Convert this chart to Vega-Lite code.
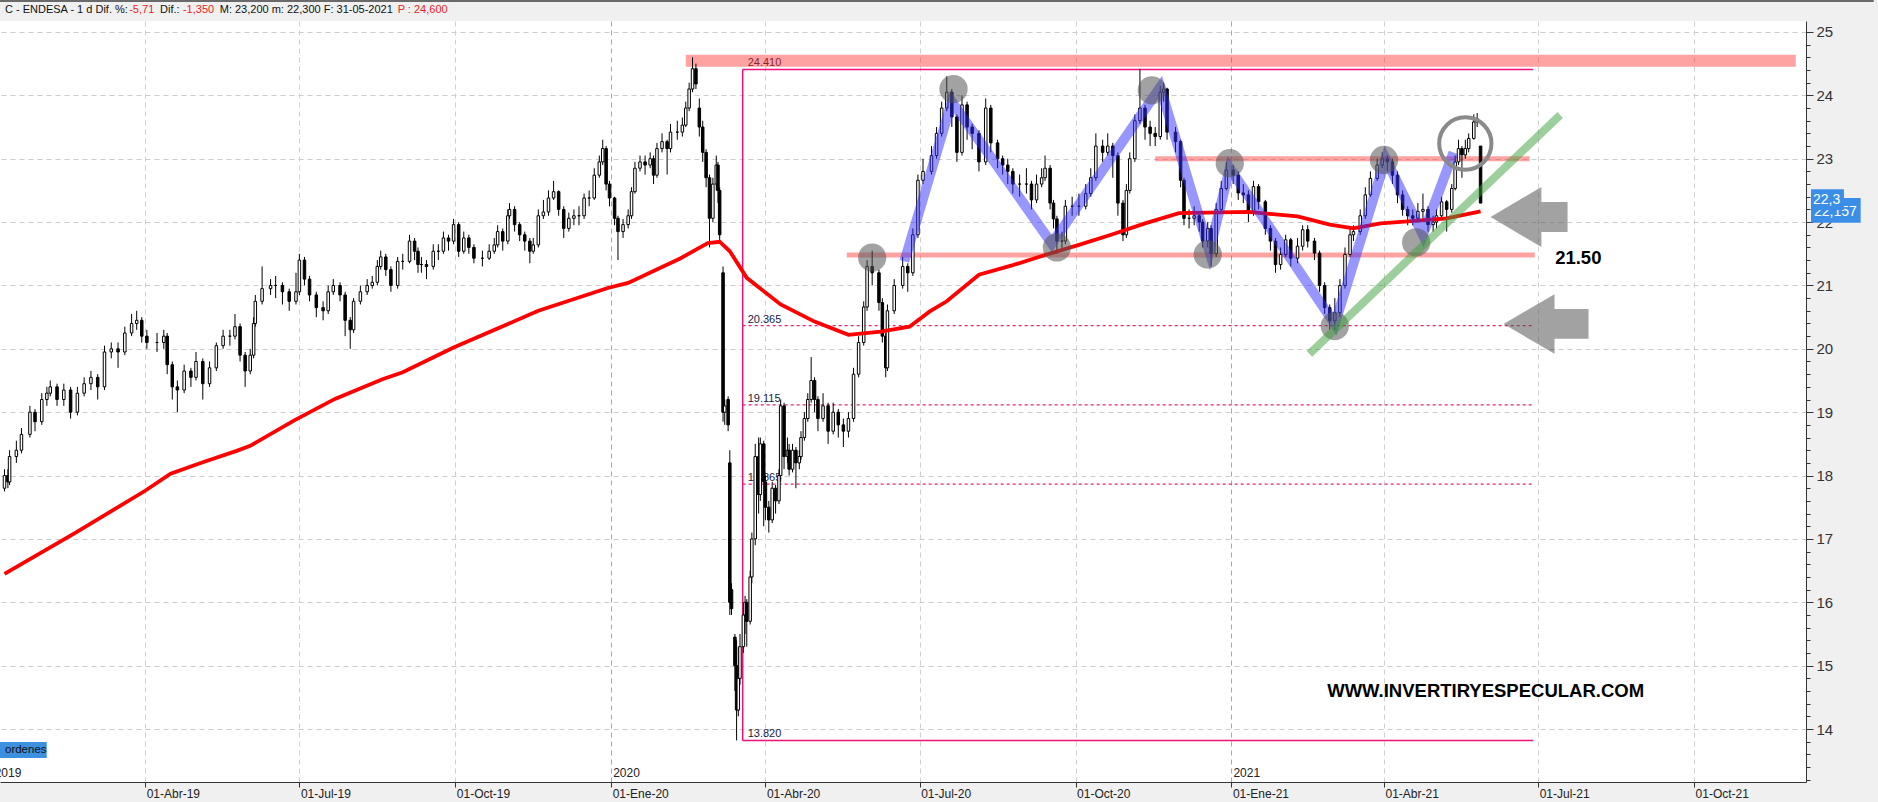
{
"$schema": "https://vega.github.io/schema/vega-lite/v6.json",
"width": 1806, "height": 761,
"autosize": {"type": "none"},
"padding": {"left": 0, "top": 21, "right": 72, "bottom": 20},
"background": "#f0f0f0",
"view": {"fill": "white", "stroke": null},
"config": {"font": "Liberation Sans"},
"datasets": {
"candles": [
{"d":"2019-01-08","o":17.8,"h":18.1,"l":17.75,"c":18.0},
{"d":"2019-01-10","o":18.0,"h":18.1,"l":17.8,"c":17.9},
{"d":"2019-01-11","o":17.9,"h":18.4,"l":17.85,"c":18.3},
{"d":"2019-01-15","o":18.3,"h":18.55,"l":18.2,"c":18.4},
{"d":"2019-01-18","o":18.4,"h":18.75,"l":18.35,"c":18.65},
{"d":"2019-01-23","o":18.65,"h":19.1,"l":18.6,"c":19.0},
{"d":"2019-01-26","o":19.0,"h":19.05,"l":18.7,"c":18.85},
{"d":"2019-01-30","o":18.85,"h":19.3,"l":18.8,"c":19.2},
{"d":"2019-02-02","o":19.2,"h":19.4,"l":19.1,"c":19.3},
{"d":"2019-02-04","o":19.3,"h":19.5,"l":19.25,"c":19.4},
{"d":"2019-02-08","o":19.4,"h":19.45,"l":19.1,"c":19.2},
{"d":"2019-02-12","o":19.2,"h":19.45,"l":19.1,"c":19.35},
{"d":"2019-02-16","o":19.35,"h":19.4,"l":18.9,"c":19.0},
{"d":"2019-02-20","o":19.0,"h":19.4,"l":18.95,"c":19.3},
{"d":"2019-02-24","o":19.3,"h":19.55,"l":19.25,"c":19.45},
{"d":"2019-02-28","o":19.45,"h":19.65,"l":19.35,"c":19.55},
{"d":"2019-03-04","o":19.55,"h":19.6,"l":19.2,"c":19.4},
{"d":"2019-03-08","o":19.4,"h":20.05,"l":19.35,"c":19.95},
{"d":"2019-03-12","o":19.95,"h":20.1,"l":19.85,"c":20.0},
{"d":"2019-03-16","o":20.0,"h":20.1,"l":19.7,"c":19.95},
{"d":"2019-03-20","o":19.95,"h":20.35,"l":19.9,"c":20.25},
{"d":"2019-03-24","o":20.25,"h":20.55,"l":20.2,"c":20.4},
{"d":"2019-03-27","o":20.4,"h":20.6,"l":20.3,"c":20.45},
{"d":"2019-03-30","o":20.45,"h":20.5,"l":20.1,"c":20.2},
{"d":"2019-04-02","o":20.2,"h":20.3,"l":20.0,"c":20.1},
{"d":"2019-04-08","o":20.1,"h":20.25,"l":19.95,"c":20.1},
{"d":"2019-04-12","o":20.1,"h":20.3,"l":20.0,"c":20.2},
{"d":"2019-04-14","o":20.2,"h":20.25,"l":19.6,"c":19.75},
{"d":"2019-04-17","o":19.75,"h":19.8,"l":19.2,"c":19.4},
{"d":"2019-04-20","o":19.4,"h":19.5,"l":19.0,"c":19.35},
{"d":"2019-04-24","o":19.35,"h":19.75,"l":19.3,"c":19.65},
{"d":"2019-04-28","o":19.65,"h":19.7,"l":19.4,"c":19.55},
{"d":"2019-05-01","o":19.55,"h":19.95,"l":19.5,"c":19.8},
{"d":"2019-05-05","o":19.8,"h":19.85,"l":19.2,"c":19.45},
{"d":"2019-05-09","o":19.45,"h":19.8,"l":19.4,"c":19.7},
{"d":"2019-05-13","o":19.7,"h":20.1,"l":19.65,"c":20.05},
{"d":"2019-05-17","o":20.05,"h":20.3,"l":20.0,"c":20.2},
{"d":"2019-05-21","o":20.2,"h":20.3,"l":20.05,"c":20.2},
{"d":"2019-05-24","o":20.2,"h":20.55,"l":20.15,"c":20.35},
{"d":"2019-05-27","o":20.35,"h":20.4,"l":19.8,"c":19.9},
{"d":"2019-05-30","o":19.9,"h":19.95,"l":19.4,"c":19.65},
{"d":"2019-06-02","o":19.65,"h":20.0,"l":19.6,"c":19.9},
{"d":"2019-06-04","o":19.9,"h":20.5,"l":19.85,"c":20.4},
{"d":"2019-06-05","o":20.4,"h":20.85,"l":20.35,"c":20.75},
{"d":"2019-06-09","o":20.75,"h":21.3,"l":20.7,"c":20.95},
{"d":"2019-06-14","o":20.95,"h":21.1,"l":20.85,"c":21.0},
{"d":"2019-06-17","o":21.0,"h":21.15,"l":20.8,"c":21.0},
{"d":"2019-06-21","o":21.0,"h":21.05,"l":20.7,"c":20.9},
{"d":"2019-06-25","o":20.9,"h":20.95,"l":20.6,"c":20.75},
{"d":"2019-06-29","o":20.75,"h":21.2,"l":20.7,"c":20.9},
{"d":"2019-07-01","o":20.9,"h":21.5,"l":20.85,"c":21.4},
{"d":"2019-07-04","o":21.4,"h":21.45,"l":21.0,"c":21.1},
{"d":"2019-07-07","o":21.1,"h":21.15,"l":20.75,"c":20.85},
{"d":"2019-07-11","o":20.85,"h":20.9,"l":20.5,"c":20.65},
{"d":"2019-07-15","o":20.65,"h":20.75,"l":20.45,"c":20.6},
{"d":"2019-07-18","o":20.6,"h":21.0,"l":20.55,"c":20.9},
{"d":"2019-07-21","o":20.9,"h":21.1,"l":20.85,"c":21.0},
{"d":"2019-07-25","o":21.0,"h":21.05,"l":20.75,"c":20.85},
{"d":"2019-07-28","o":20.85,"h":20.9,"l":20.2,"c":20.45},
{"d":"2019-07-31","o":20.45,"h":20.5,"l":20.0,"c":20.3},
{"d":"2019-08-02","o":20.3,"h":20.8,"l":20.25,"c":20.75},
{"d":"2019-08-06","o":20.75,"h":21.0,"l":20.7,"c":20.9},
{"d":"2019-08-10","o":20.9,"h":21.1,"l":20.85,"c":21.0},
{"d":"2019-08-13","o":21.0,"h":21.15,"l":20.95,"c":21.05},
{"d":"2019-08-16","o":21.05,"h":21.4,"l":21.0,"c":21.3},
{"d":"2019-08-18","o":21.3,"h":21.55,"l":21.25,"c":21.45},
{"d":"2019-08-21","o":21.45,"h":21.5,"l":21.15,"c":21.25},
{"d":"2019-08-24","o":21.25,"h":21.3,"l":20.9,"c":21.0},
{"d":"2019-08-28","o":21.0,"h":21.45,"l":20.95,"c":21.38},
{"d":"2019-08-31","o":21.38,"h":21.5,"l":21.25,"c":21.38},
{"d":"2019-09-04","o":21.38,"h":21.8,"l":21.35,"c":21.7},
{"d":"2019-09-07","o":21.7,"h":21.75,"l":21.4,"c":21.54},
{"d":"2019-09-09","o":21.54,"h":21.6,"l":21.2,"c":21.33},
{"d":"2019-09-11","o":21.33,"h":21.45,"l":21.2,"c":21.33},
{"d":"2019-09-14","o":21.33,"h":21.4,"l":21.1,"c":21.3},
{"d":"2019-09-18","o":21.3,"h":21.65,"l":21.25,"c":21.54},
{"d":"2019-09-21","o":21.54,"h":21.65,"l":21.4,"c":21.54},
{"d":"2019-09-24","o":21.54,"h":21.85,"l":21.5,"c":21.75},
{"d":"2019-09-27","o":21.75,"h":21.8,"l":21.55,"c":21.7},
{"d":"2019-09-30","o":21.7,"h":22.05,"l":21.65,"c":21.96},
{"d":"2019-10-03","o":21.96,"h":22.0,"l":21.45,"c":21.54},
{"d":"2019-10-06","o":21.54,"h":21.85,"l":21.5,"c":21.75},
{"d":"2019-10-09","o":21.75,"h":21.8,"l":21.5,"c":21.6},
{"d":"2019-10-12","o":21.6,"h":21.65,"l":21.35,"c":21.43},
{"d":"2019-10-17","o":21.43,"h":21.55,"l":21.3,"c":21.43},
{"d":"2019-10-21","o":21.43,"h":21.65,"l":21.4,"c":21.54},
{"d":"2019-10-24","o":21.54,"h":21.75,"l":21.5,"c":21.64},
{"d":"2019-10-26","o":21.64,"h":21.95,"l":21.6,"c":21.85},
{"d":"2019-10-29","o":21.85,"h":21.9,"l":21.55,"c":21.7},
{"d":"2019-11-01","o":21.7,"h":22.2,"l":21.65,"c":22.1},
{"d":"2019-11-02","o":22.1,"h":22.3,"l":22.05,"c":22.2},
{"d":"2019-11-05","o":22.2,"h":22.25,"l":21.85,"c":21.96},
{"d":"2019-11-08","o":21.96,"h":22.0,"l":21.7,"c":21.8},
{"d":"2019-11-11","o":21.8,"h":21.85,"l":21.55,"c":21.7},
{"d":"2019-11-14","o":21.7,"h":21.75,"l":21.35,"c":21.54},
{"d":"2019-11-16","o":21.54,"h":21.75,"l":21.5,"c":21.64},
{"d":"2019-11-19","o":21.64,"h":22.2,"l":21.6,"c":22.1},
{"d":"2019-11-22","o":22.1,"h":22.35,"l":22.05,"c":22.16},
{"d":"2019-11-25","o":22.16,"h":22.5,"l":22.1,"c":22.38},
{"d":"2019-11-28","o":22.38,"h":22.65,"l":22.35,"c":22.48},
{"d":"2019-12-01","o":22.48,"h":22.5,"l":22.1,"c":22.2},
{"d":"2019-12-04","o":22.2,"h":22.25,"l":21.75,"c":21.9},
{"d":"2019-12-07","o":21.9,"h":22.15,"l":21.85,"c":22.06},
{"d":"2019-12-10","o":22.06,"h":22.2,"l":21.95,"c":22.1},
{"d":"2019-12-13","o":22.1,"h":22.25,"l":21.95,"c":22.1},
{"d":"2019-12-16","o":22.1,"h":22.45,"l":22.05,"c":22.38},
{"d":"2019-12-19","o":22.38,"h":22.5,"l":22.25,"c":22.38},
{"d":"2019-12-22","o":22.38,"h":22.85,"l":22.35,"c":22.74},
{"d":"2019-12-25","o":22.74,"h":23.05,"l":22.7,"c":22.95},
{"d":"2019-12-27","o":22.95,"h":23.3,"l":22.9,"c":23.16},
{"d":"2019-12-29","o":23.16,"h":23.2,"l":22.5,"c":22.6},
{"d":"2019-12-31","o":22.6,"h":22.65,"l":22.25,"c":22.38},
{"d":"2020-01-03","o":22.38,"h":22.4,"l":21.95,"c":22.06},
{"d":"2020-01-05","o":22.06,"h":22.1,"l":21.4,"c":21.85},
{"d":"2020-01-08","o":21.85,"h":22.05,"l":21.75,"c":21.96},
{"d":"2020-01-11","o":21.96,"h":22.2,"l":21.9,"c":22.1},
{"d":"2020-01-13","o":22.1,"h":22.55,"l":22.05,"c":22.48},
{"d":"2020-01-15","o":22.48,"h":22.95,"l":22.45,"c":22.85},
{"d":"2020-01-18","o":22.85,"h":23.05,"l":22.8,"c":22.95},
{"d":"2020-01-21","o":22.95,"h":23.05,"l":22.75,"c":22.9},
{"d":"2020-01-24","o":22.9,"h":23.1,"l":22.85,"c":23.0},
{"d":"2020-01-26","o":23.0,"h":23.05,"l":22.6,"c":22.74},
{"d":"2020-01-28","o":22.74,"h":23.25,"l":22.7,"c":23.16},
{"d":"2020-01-31","o":23.16,"h":23.4,"l":23.1,"c":23.27},
{"d":"2020-02-03","o":23.27,"h":23.3,"l":22.75,"c":23.16},
{"d":"2020-02-05","o":23.16,"h":23.55,"l":23.1,"c":23.42},
{"d":"2020-02-09","o":23.42,"h":23.6,"l":23.3,"c":23.42},
{"d":"2020-02-12","o":23.42,"h":23.65,"l":23.35,"c":23.53},
{"d":"2020-02-14","o":23.53,"h":23.9,"l":23.5,"c":23.8},
{"d":"2020-02-16","o":23.8,"h":24.2,"l":23.75,"c":24.1},
{"d":"2020-02-18","o":24.1,"h":24.6,"l":24.05,"c":24.42},
{"d":"2020-02-20","o":24.42,"h":24.5,"l":24.1,"c":24.18},
{"d":"2020-02-22","o":23.8,"h":23.95,"l":23.35,"c":23.5},
{"d":"2020-02-24","o":23.5,"h":23.6,"l":22.95,"c":23.1},
{"d":"2020-02-26","o":23.1,"h":23.15,"l":22.55,"c":22.7},
{"d":"2020-02-28","o":22.7,"h":22.75,"l":21.6,"c":22.06},
{"d":"2020-03-01","o":22.06,"h":22.7,"l":22.0,"c":22.6},
{"d":"2020-03-03","o":22.6,"h":23.05,"l":22.5,"c":22.9},
{"d":"2020-03-04","o":22.9,"h":22.95,"l":22.3,"c":22.5},
{"d":"2020-03-05","o":22.5,"h":22.55,"l":21.7,"c":21.8},
{"d":"2020-03-07","o":21.2,"h":21.3,"l":18.85,"c":19.0},
{"d":"2020-03-08","o":19.0,"h":19.2,"l":18.8,"c":19.1},
{"d":"2020-03-10","o":19.2,"h":19.25,"l":18.7,"c":18.8},
{"d":"2020-03-11","o":18.2,"h":18.4,"l":15.8,"c":16.0},
{"d":"2020-03-12","o":16.2,"h":16.3,"l":15.8,"c":15.9},
{"d":"2020-03-14","o":15.45,"h":15.5,"l":14.6,"c":15.0},
{"d":"2020-03-15","o":15.0,"h":15.4,"l":13.82,"c":14.3},
{"d":"2020-03-16","o":14.3,"h":15.3,"l":14.2,"c":14.8},
{"d":"2020-03-17","o":14.8,"h":15.5,"l":14.7,"c":15.3},
{"d":"2020-03-19","o":15.3,"h":16.0,"l":15.2,"c":15.8},
{"d":"2020-03-20","o":15.8,"h":16.1,"l":15.5,"c":16.0},
{"d":"2020-03-21","o":16.0,"h":16.05,"l":15.3,"c":15.7},
{"d":"2020-03-23","o":15.7,"h":16.5,"l":15.65,"c":16.4},
{"d":"2020-03-24","o":16.4,"h":17.1,"l":16.3,"c":17.0},
{"d":"2020-03-26","o":17.0,"h":18.5,"l":16.9,"c":18.3},
{"d":"2020-03-28","o":18.3,"h":18.6,"l":17.4,"c":17.7},
{"d":"2020-03-29","o":17.7,"h":18.6,"l":17.6,"c":18.5},
{"d":"2020-03-31","o":18.5,"h":18.55,"l":17.2,"c":17.9},
{"d":"2020-04-01","o":17.9,"h":18.0,"l":17.3,"c":17.5},
{"d":"2020-04-03","o":17.5,"h":17.6,"l":17.1,"c":17.3},
{"d":"2020-04-05","o":17.3,"h":17.9,"l":17.25,"c":17.8},
{"d":"2020-04-07","o":17.8,"h":17.85,"l":17.4,"c":17.6},
{"d":"2020-04-09","o":17.6,"h":18.1,"l":17.55,"c":18.0},
{"d":"2020-04-10","o":18.0,"h":19.2,"l":17.9,"c":19.1},
{"d":"2020-04-12","o":19.1,"h":19.15,"l":18.1,"c":18.3},
{"d":"2020-04-14","o":18.3,"h":18.6,"l":18.2,"c":18.4},
{"d":"2020-04-15","o":18.4,"h":18.5,"l":18.0,"c":18.1},
{"d":"2020-04-17","o":18.1,"h":18.5,"l":18.05,"c":18.4},
{"d":"2020-04-19","o":18.4,"h":18.45,"l":17.8,"c":18.2},
{"d":"2020-04-21","o":18.2,"h":18.4,"l":18.1,"c":18.3},
{"d":"2020-04-22","o":18.3,"h":18.7,"l":18.25,"c":18.6},
{"d":"2020-04-24","o":18.6,"h":19.0,"l":18.55,"c":18.9},
{"d":"2020-04-26","o":18.9,"h":19.3,"l":18.85,"c":19.2},
{"d":"2020-04-28","o":19.2,"h":19.87,"l":19.15,"c":19.5},
{"d":"2020-04-30","o":19.5,"h":19.55,"l":19.0,"c":19.2},
{"d":"2020-05-02","o":19.2,"h":19.25,"l":18.7,"c":18.9},
{"d":"2020-05-05","o":18.9,"h":19.3,"l":18.85,"c":19.1},
{"d":"2020-05-08","o":19.1,"h":19.15,"l":18.5,"c":18.7},
{"d":"2020-05-11","o":18.7,"h":19.15,"l":18.65,"c":19.0},
{"d":"2020-05-14","o":19.0,"h":19.05,"l":18.6,"c":18.8},
{"d":"2020-05-17","o":18.8,"h":18.9,"l":18.45,"c":18.7},
{"d":"2020-05-20","o":18.7,"h":19.0,"l":18.6,"c":18.9},
{"d":"2020-05-23","o":18.9,"h":19.7,"l":18.85,"c":19.6},
{"d":"2020-05-26","o":19.6,"h":20.2,"l":19.55,"c":20.1},
{"d":"2020-05-29","o":20.1,"h":20.75,"l":20.05,"c":20.66},
{"d":"2020-05-31","o":20.66,"h":21.4,"l":20.6,"c":21.3},
{"d":"2020-06-03","o":21.3,"h":21.55,"l":21.0,"c":21.2},
{"d":"2020-06-07","o":21.2,"h":21.25,"l":20.6,"c":20.73},
{"d":"2020-06-09","o":20.73,"h":20.8,"l":20.1,"c":20.2},
{"d":"2020-06-11","o":20.2,"h":20.25,"l":19.55,"c":19.7},
{"d":"2020-06-12","o":19.7,"h":20.7,"l":19.65,"c":20.6},
{"d":"2020-06-16","o":20.6,"h":21.1,"l":20.55,"c":21.0},
{"d":"2020-06-21","o":21.0,"h":21.45,"l":20.95,"c":21.3},
{"d":"2020-06-24","o":21.3,"h":21.35,"l":20.9,"c":21.2},
{"d":"2020-06-27","o":21.2,"h":21.9,"l":21.15,"c":21.8},
{"d":"2020-06-30","o":21.8,"h":22.75,"l":21.75,"c":22.66},
{"d":"2020-07-03","o":22.66,"h":23.0,"l":22.6,"c":22.8},
{"d":"2020-07-08","o":22.8,"h":23.2,"l":22.75,"c":23.05},
{"d":"2020-07-11","o":23.05,"h":23.5,"l":23.0,"c":23.4},
{"d":"2020-07-14","o":23.4,"h":23.9,"l":23.35,"c":23.8},
{"d":"2020-07-17","o":23.8,"h":24.3,"l":23.75,"c":24.05},
{"d":"2020-07-20","o":24.05,"h":24.1,"l":23.5,"c":23.66},
{"d":"2020-07-23","o":23.66,"h":23.7,"l":22.95,"c":23.1},
{"d":"2020-07-26","o":23.1,"h":24.0,"l":23.05,"c":23.85},
{"d":"2020-07-29","o":23.85,"h":23.9,"l":23.3,"c":23.5},
{"d":"2020-08-01","o":23.5,"h":23.55,"l":23.15,"c":23.4},
{"d":"2020-08-05","o":23.4,"h":23.45,"l":22.8,"c":22.95},
{"d":"2020-08-09","o":22.95,"h":23.95,"l":22.9,"c":23.8},
{"d":"2020-08-12","o":23.8,"h":23.85,"l":23.1,"c":23.25},
{"d":"2020-08-16","o":23.25,"h":23.3,"l":22.85,"c":23.0},
{"d":"2020-08-19","o":23.0,"h":23.05,"l":22.75,"c":22.9},
{"d":"2020-08-22","o":22.9,"h":23.0,"l":22.6,"c":22.8},
{"d":"2020-08-25","o":22.8,"h":22.85,"l":22.45,"c":22.6},
{"d":"2020-08-29","o":22.6,"h":22.75,"l":22.4,"c":22.6},
{"d":"2020-09-02","o":22.6,"h":22.85,"l":22.45,"c":22.6},
{"d":"2020-09-05","o":22.6,"h":22.65,"l":22.2,"c":22.35},
{"d":"2020-09-08","o":22.35,"h":22.75,"l":22.3,"c":22.6},
{"d":"2020-09-11","o":22.6,"h":22.85,"l":22.55,"c":22.7},
{"d":"2020-09-13","o":22.7,"h":23.05,"l":22.65,"c":22.85},
{"d":"2020-09-16","o":22.85,"h":22.9,"l":22.2,"c":22.3},
{"d":"2020-09-18","o":22.3,"h":22.35,"l":21.9,"c":22.05},
{"d":"2020-09-20","o":22.05,"h":22.1,"l":21.5,"c":21.7},
{"d":"2020-09-23","o":21.7,"h":21.85,"l":21.55,"c":21.7},
{"d":"2020-09-25","o":21.7,"h":22.35,"l":21.65,"c":22.25},
{"d":"2020-09-29","o":22.25,"h":22.4,"l":22.1,"c":22.25},
{"d":"2020-10-03","o":22.25,"h":22.45,"l":22.1,"c":22.25},
{"d":"2020-10-07","o":22.25,"h":22.6,"l":22.2,"c":22.45},
{"d":"2020-10-10","o":22.45,"h":22.85,"l":22.4,"c":22.7},
{"d":"2020-10-13","o":22.7,"h":23.4,"l":22.65,"c":23.2},
{"d":"2020-10-17","o":23.2,"h":23.3,"l":22.95,"c":23.1},
{"d":"2020-10-20","o":23.1,"h":23.4,"l":23.05,"c":23.2},
{"d":"2020-10-23","o":23.2,"h":23.25,"l":22.7,"c":23.05},
{"d":"2020-10-26","o":23.05,"h":23.1,"l":22.1,"c":22.3},
{"d":"2020-10-29","o":22.3,"h":22.35,"l":21.7,"c":21.8},
{"d":"2020-10-31","o":21.8,"h":22.6,"l":21.75,"c":22.5},
{"d":"2020-11-02","o":22.5,"h":23.1,"l":22.45,"c":23.0},
{"d":"2020-11-05","o":23.0,"h":23.7,"l":22.95,"c":23.6},
{"d":"2020-11-08","o":23.6,"h":24.42,"l":23.55,"c":23.8},
{"d":"2020-11-11","o":23.8,"h":23.85,"l":23.3,"c":23.5},
{"d":"2020-11-14","o":23.5,"h":23.6,"l":23.2,"c":23.4},
{"d":"2020-11-17","o":23.4,"h":23.5,"l":23.2,"c":23.35},
{"d":"2020-11-20","o":23.35,"h":24.15,"l":23.3,"c":24.05},
{"d":"2020-11-22","o":24.05,"h":24.2,"l":23.9,"c":24.1},
{"d":"2020-11-24","o":24.1,"h":24.12,"l":23.3,"c":23.42},
{"d":"2020-11-29","o":23.42,"h":23.5,"l":23.1,"c":23.27},
{"d":"2020-12-02","o":23.27,"h":23.3,"l":22.55,"c":22.66},
{"d":"2020-12-04","o":22.66,"h":22.7,"l":21.95,"c":22.06},
{"d":"2020-12-07","o":22.06,"h":22.2,"l":21.9,"c":22.06},
{"d":"2020-12-10","o":22.06,"h":22.25,"l":21.95,"c":22.1},
{"d":"2020-12-13","o":22.1,"h":22.15,"l":21.85,"c":22.0},
{"d":"2020-12-15","o":22.0,"h":22.05,"l":21.6,"c":21.7},
{"d":"2020-12-18","o":21.7,"h":22.0,"l":21.6,"c":21.9},
{"d":"2020-12-20","o":21.9,"h":21.95,"l":21.3,"c":21.5},
{"d":"2020-12-23","o":21.5,"h":22.3,"l":21.45,"c":22.2},
{"d":"2020-12-26","o":22.2,"h":22.65,"l":22.15,"c":22.53},
{"d":"2020-12-29","o":22.53,"h":22.95,"l":22.5,"c":22.82},
{"d":"2021-01-02","o":22.82,"h":22.9,"l":22.6,"c":22.74},
{"d":"2021-01-05","o":22.74,"h":22.8,"l":22.35,"c":22.46},
{"d":"2021-01-08","o":22.46,"h":22.6,"l":22.3,"c":22.43},
{"d":"2021-01-11","o":22.43,"h":22.5,"l":22.0,"c":22.17},
{"d":"2021-01-14","o":22.17,"h":22.65,"l":22.1,"c":22.56},
{"d":"2021-01-17","o":22.56,"h":22.6,"l":22.2,"c":22.32},
{"d":"2021-01-21","o":22.32,"h":22.35,"l":21.8,"c":21.9},
{"d":"2021-01-24","o":21.9,"h":21.95,"l":21.55,"c":21.7},
{"d":"2021-01-27","o":21.7,"h":21.75,"l":21.2,"c":21.33},
{"d":"2021-01-30","o":21.33,"h":21.6,"l":21.25,"c":21.49},
{"d":"2021-02-02","o":21.49,"h":21.8,"l":21.45,"c":21.72},
{"d":"2021-02-05","o":21.72,"h":21.75,"l":21.3,"c":21.43},
{"d":"2021-02-09","o":21.43,"h":21.75,"l":21.35,"c":21.62},
{"d":"2021-02-12","o":21.62,"h":21.95,"l":21.55,"c":21.88},
{"d":"2021-02-15","o":21.88,"h":21.95,"l":21.6,"c":21.7},
{"d":"2021-02-19","o":21.7,"h":21.75,"l":21.4,"c":21.51},
{"d":"2021-02-22","o":21.51,"h":21.55,"l":20.9,"c":21.0},
{"d":"2021-02-25","o":21.0,"h":21.05,"l":20.55,"c":20.65},
{"d":"2021-02-28","o":20.65,"h":20.7,"l":20.3,"c":20.44},
{"d":"2021-03-03","o":20.44,"h":20.8,"l":20.3,"c":20.57},
{"d":"2021-03-06","o":20.57,"h":21.1,"l":20.5,"c":21.0},
{"d":"2021-03-09","o":21.0,"h":21.6,"l":20.95,"c":21.49},
{"d":"2021-03-12","o":21.49,"h":21.9,"l":21.45,"c":21.8},
{"d":"2021-03-14","o":21.8,"h":21.95,"l":21.7,"c":21.85},
{"d":"2021-03-18","o":21.85,"h":22.2,"l":21.8,"c":22.1},
{"d":"2021-03-21","o":22.1,"h":22.55,"l":22.05,"c":22.43},
{"d":"2021-03-24","o":22.43,"h":22.8,"l":22.4,"c":22.69},
{"d":"2021-03-28","o":22.69,"h":23.0,"l":22.65,"c":22.9},
{"d":"2021-03-31","o":22.9,"h":23.1,"l":22.85,"c":23.0},
{"d":"2021-04-03","o":23.0,"h":23.05,"l":22.8,"c":22.95},
{"d":"2021-04-06","o":22.95,"h":23.0,"l":22.6,"c":22.74},
{"d":"2021-04-09","o":22.74,"h":22.8,"l":22.3,"c":22.43},
{"d":"2021-04-12","o":22.43,"h":22.5,"l":22.1,"c":22.2},
{"d":"2021-04-15","o":22.2,"h":22.25,"l":21.95,"c":22.1},
{"d":"2021-04-18","o":22.1,"h":22.2,"l":21.95,"c":22.06},
{"d":"2021-04-21","o":22.06,"h":22.3,"l":22.0,"c":22.17},
{"d":"2021-04-24","o":22.17,"h":22.45,"l":22.05,"c":22.2},
{"d":"2021-04-27","o":22.2,"h":22.25,"l":21.85,"c":21.96},
{"d":"2021-04-30","o":21.96,"h":22.1,"l":21.85,"c":22.0},
{"d":"2021-05-02","o":22.0,"h":22.2,"l":21.9,"c":22.1},
{"d":"2021-05-05","o":22.1,"h":22.4,"l":22.05,"c":22.32},
{"d":"2021-05-08","o":22.32,"h":22.35,"l":21.85,"c":22.2},
{"d":"2021-05-11","o":22.2,"h":22.6,"l":22.15,"c":22.53},
{"d":"2021-05-13","o":22.53,"h":23.05,"l":22.5,"c":22.95},
{"d":"2021-05-15","o":22.95,"h":23.3,"l":22.9,"c":23.16},
{"d":"2021-05-17","o":23.16,"h":23.2,"l":22.7,"c":23.06},
{"d":"2021-05-19","o":23.06,"h":23.3,"l":23.0,"c":23.16},
{"d":"2021-05-21","o":23.16,"h":23.4,"l":23.1,"c":23.32},
{"d":"2021-05-24","o":23.32,"h":23.7,"l":23.3,"c":23.58},
{"d":"2021-05-26","o":23.58,"h":23.72,"l":23.5,"c":23.63},
{"d":"2021-05-28","o":23.2,"h":23.2,"l":22.3,"c":22.3}
],
"ma": [
{"d":"2019-01-08","v":16.45},{"d":"2019-02-19","v":17.1},{"d":"2019-03-14","v":17.47},{"d":"2019-04-01","v":17.76},
{"d":"2019-04-16","v":18.03},{"d":"2019-05-05","v":18.21},{"d":"2019-05-25","v":18.39},{"d":"2019-06-02","v":18.47},
{"d":"2019-06-28","v":18.87},{"d":"2019-07-22","v":19.21},{"d":"2019-08-19","v":19.52},{"d":"2019-08-31","v":19.63},
{"d":"2019-09-30","v":20.02},{"d":"2019-11-19","v":20.6},{"d":"2019-12-30","v":20.96},{"d":"2020-01-11","v":21.04},
{"d":"2020-02-11","v":21.43},{"d":"2020-02-27","v":21.67},{"d":"2020-03-05","v":21.69},{"d":"2020-03-11","v":21.54},
{"d":"2020-03-21","v":21.12},{"d":"2020-04-10","v":20.7},{"d":"2020-04-30","v":20.43},{"d":"2020-05-20","v":20.22},
{"d":"2020-06-08","v":20.27},{"d":"2020-06-25","v":20.35},{"d":"2020-07-07","v":20.59},{"d":"2020-07-17","v":20.75},
{"d":"2020-08-05","v":21.17},{"d":"2020-08-25","v":21.32},{"d":"2020-09-13","v":21.48},{"d":"2020-10-03","v":21.64},
{"d":"2020-10-22","v":21.8},{"d":"2020-11-11","v":21.98},{"d":"2020-12-01","v":22.14},{"d":"2021-01-11","v":22.16},
{"d":"2021-02-09","v":22.09},{"d":"2021-02-28","v":21.96},{"d":"2021-03-14","v":21.9},{"d":"2021-03-30","v":21.98},
{"d":"2021-04-19","v":22.02},{"d":"2021-05-08","v":22.06},{"d":"2021-05-28","v":22.17}
],
"zig": [
{"d":"2020-06-22","v":21.38},{"d":"2020-07-20","v":23.9},{"d":"2020-09-17","v":21.66},{"d":"2020-11-20","v":24.13},
{"d":"2020-12-19","v":21.54},{"d":"2020-12-31","v":22.85},{"d":"2021-03-03","v":20.39},{"d":"2021-04-02","v":23.0},
{"d":"2021-04-24","v":21.8},{"d":"2021-05-12","v":23.1}
],
"circles": [
{"d":"2020-06-03","v":21.44},{"d":"2020-07-21","v":24.1},{"d":"2020-09-20","v":21.6},{"d":"2020-11-15","v":24.08},
{"d":"2020-12-18","v":21.49},{"d":"2020-12-31","v":22.93},{"d":"2021-03-03","v":20.36},{"d":"2021-04-01","v":22.98},
{"d":"2021-04-20","v":21.68}
]
},
"encoding": {
"x": {"field": "d", "type": "temporal", "title": null,
 "scale": {"type": "utc", "nice": false, "domain": [{"year":2019,"month":1,"date":8,"hours":7,"utc":true},{"year":2021,"month":12,"date":3,"hours":2,"utc":true}]},
 "axis": {"orient": "bottom",
  "values": [{"year":2019,"month":1,"date":1,"utc":true},{"year":2019,"month":4,"date":1,"utc":true},{"year":2019,"month":7,"date":1,"utc":true},{"year":2019,"month":10,"date":1,"utc":true},{"year":2020,"month":1,"date":1,"utc":true},{"year":2020,"month":4,"date":1,"utc":true},{"year":2020,"month":7,"date":1,"utc":true},{"year":2020,"month":10,"date":1,"utc":true},{"year":2021,"month":1,"date":1,"utc":true},{"year":2021,"month":4,"date":1,"utc":true},{"year":2021,"month":7,"date":1,"utc":true},{"year":2021,"month":10,"date":1,"utc":true}],
  "labelExpr": "'01-' + ['Ene','Feb','Mar','Abr','May','Jun','Jul','Ago','Sep','Oct','Nov','Dic'][utcmonth(datum.value)] + '-' + utcFormat(datum.value, '%y')",
  "labelAlign": "left", "labelOffset": 1, "labelBaseline": "top", "labelPadding": 1,
  "labelFontSize": 12, "labelColor": "#222", "labelFont": "Liberation Sans",
  "labelOverlap": false, "labelBound": false, "labelFlush": false,
  "tickSize": 5, "tickColor": "#333", "domainColor": "#333",
  "grid": true,
  "gridColor": {"condition": {"test": "utcmonth(datum.value) == 0", "value": "#a8a8a8"}, "value": "#d0d0d0"},
  "gridDash": [5, 4], "title": null}},
"y": {"field": "v", "type": "quantitative", "title": null,
 "scale": {"domain": [13.164, 25.1735], "nice": false, "zero": false},
 "axis": {"orient": "right",
  "values": [13.2,13.4,13.6,13.8,14,14.2,14.4,14.6,14.8,15,15.2,15.4,15.6,15.8,16,16.2,16.4,16.6,16.8,17,17.2,17.4,17.6,17.8,18,18.2,18.4,18.6,18.8,19,19.2,19.4,19.6,19.8,20,20.2,20.4,20.6,20.8,21,21.2,21.4,21.6,21.8,22,22.2,22.4,22.6,22.8,23,23.2,23.4,23.6,23.8,24,24.2,24.4,24.6,24.8,25],
  "labelExpr": "abs(datum.value - round(datum.value)) < 0.01 ? format(datum.value, 'd') : ''",
  "labelFontSize": 15, "labelColor": "#333", "labelFont": "Liberation Sans", "labelPadding": 3,
  "labelOverlap": false, "labelBound": false, "labelFlush": false,
  "tickColor": "#333",
  "tickSize": {"condition": {"test": "abs(datum.value - round(datum.value)) < 0.01", "value": 7}, "value": 4},
  "domainColor": "#333",
  "grid": true, "gridColor": "#cccccc", "gridDash": [5, 4],
  "gridOpacity": {"condition": {"test": "abs(datum.value - round(datum.value)) < 0.01", "value": 1}, "value": 0},
  "title": null}}
},
"layer": [
{"data": {"values": [{"d":"2019-01-01","d2":"2022-01-15","v":25.474,"v2":25.505}]},
 "mark": {"type": "rect", "color": "#6a6a6a"},
 "encoding": {"x2": {"field": "d2"}, "y2": {"field": "v2"}}},
{"data": {"values": [{"d":"2020-03-18T14:00:00Z","v":13.82,"v2":24.41}]},
 "mark": {"type": "rule", "color": "#ee1177", "strokeWidth": 1.5},
 "encoding": {"y2": {"field": "v2"}}},
{"data": {"values": [{"d":"2020-03-18T14:00:00Z","d2":"2021-06-28","v":24.41},{"d":"2020-03-18T14:00:00Z","d2":"2021-06-28","v":13.82}]},
 "mark": {"type": "rule", "color": "#ee1177", "strokeWidth": 1.5},
 "encoding": {"x2": {"field": "d2"}}},
{"data": {"values": [{"d":"2020-03-18T14:00:00Z","d2":"2021-06-28","v":20.365},{"d":"2020-03-18T14:00:00Z","d2":"2021-06-28","v":19.115},{"d":"2020-03-18T14:00:00Z","d2":"2021-06-28","v":17.865}]},
 "mark": {"type": "rule", "color": "#e8206f", "strokeWidth": 1.2, "strokeDash": [3, 3]},
 "encoding": {"x2": {"field": "d2"}}},
{"data": {"values": [{"d":"2020-03-18T14:00:00Z","v":24.41,"t":"24.410"},{"d":"2020-03-18T14:00:00Z","v":20.365,"t":"20.365"},{"d":"2020-03-18T14:00:00Z","v":19.115,"t":"19.115"},{"d":"2020-03-18T14:00:00Z","v":17.865,"t":"17.865"},{"d":"2020-03-18T14:00:00Z","v":13.82,"t":"13.820"}]},
 "mark": {"type": "text", "align": "left", "baseline": "bottom", "dx": 5, "dy": -1, "fontSize": 11, "color": "#1a1a40"},
 "encoding": {"text": {"field": "t"}}},
{"data": {"values": [{"d":"2020-02-14","d2":"2021-11-30","v":24.45,"v2":24.64}]},
 "mark": {"type": "rect", "color": "#ff3030", "opacity": 0.45},
 "encoding": {"x2": {"field": "d2"}, "y2": {"field": "v2"}}},
{"data": {"values": [{"d":"2020-05-19","d2":"2021-06-29","v":21.48},{"d":"2020-11-17","d2":"2021-06-26","v":23.0}]},
 "mark": {"type": "rule", "color": "#ff3030", "opacity": 0.45, "strokeWidth": 5},
 "encoding": {"x2": {"field": "d2"}}},
{"data": {"name": "candles"},
 "mark": {"type": "rule", "color": "black", "strokeWidth": 1},
 "encoding": {"y": {"field": "l", "type": "quantitative", "title": null, "scale": {"domain": [13.164, 25.1735], "nice": false, "zero": false}}, "y2": {"field": "h"}}},
{"data": {"name": "candles"},
 "mark": {"type": "bar", "size": 2.5, "stroke": "black", "strokeWidth": 1},
 "encoding": {"y": {"field": "o", "type": "quantitative", "title": null, "scale": {"domain": [13.164, 25.1735], "nice": false, "zero": false}}, "y2": {"field": "c"},
  "fill": {"condition": {"test": "datum.c < datum.o", "value": "black"}, "value": "white"}}},
{"data": {"name": "ma"},
 "mark": {"type": "line", "color": "#ff0000", "strokeWidth": 3.8},
 "encoding": {}},
{"data": {"name": "zig"},
 "mark": {"type": "line", "color": "#3030ff", "opacity": 0.5, "strokeWidth": 10, "strokeJoin": "miter"},
 "encoding": {}},
{"data": {"name": "circles"},
 "mark": {"type": "circle", "color": "#555555", "opacity": 0.55, "size": 800},
 "encoding": {}},
{"data": {"values": [{"d":"2021-02-16","v":19.92},{"d":"2021-07-14","v":23.69}]},
 "mark": {"type": "line", "color": "#3ca03c", "opacity": 0.5, "strokeWidth": 8},
 "encoding": {}},
{"data": {"values": [{"d":"2021-05-19","v":23.24}]},
 "mark": {"type": "point", "shape": "circle", "filled": false, "stroke": "#8a8a8a", "strokeWidth": 4, "size": 2734, "opacity": 1},
 "encoding": {}},
{"data": {"values": [{"d":"2021-06-25T15:00:00Z","v":22.08}]},
 "mark": {"type": "point", "shape": "M -1 0 L 0.32 -0.78 L 0.32 -0.39 L 1 -0.39 L 1 0.39 L 0.32 0.39 L 0.32 0.78 Z", "filled": true, "color": "#555555", "opacity": 0.55, "size": 5929, "strokeWidth": 0},
 "encoding": {}},
{"data": {"values": [{"d":"2021-07-05T15:00:00Z","v":20.392}]},
 "mark": {"type": "point", "shape": "M -1 0 L 0.2 -0.7 L 0.2 -0.35 L 1 -0.35 L 1 0.35 L 0.2 0.35 L 0.2 0.7 Z", "filled": true, "color": "#555555", "opacity": 0.55, "size": 7225, "strokeWidth": 0},
 "encoding": {}},
{"data": {"values": [{"d":"2021-07-11","v":21.43,"t":"21.50"}]},
 "mark": {"type": "text", "align": "left", "baseline": "middle", "fontSize": 18.5, "fontWeight": "bold", "color": "black"},
 "encoding": {"text": {"field": "t"}}},
{"data": {"values": [{"d":"2021-05-31","v":14.6,"t":"WWW.INVERTIRYESPECULAR.COM"}]},
 "mark": {"type": "text", "align": "center", "baseline": "middle", "fontSize": 18.5, "fontWeight": "bold", "color": "black"},
 "encoding": {"text": {"field": "t"}}},
{"data": {"values": [{"d":"2019-01-01","v":13.307,"t":"2019"},{"d":"2020-01-01","v":13.307,"t":"2020"},{"d":"2021-01-01","v":13.307,"t":"2021"}]},
 "mark": {"type": "text", "align": "left", "baseline": "middle", "dx": 2, "fontSize": 12, "color": "#222"},
 "encoding": {"text": {"field": "t"}}},
{"data": {"values": [{"d":"2019-01-01","d2":"2019-02-01T22:00:00Z","v":13.543,"v2":13.796}]},
 "mark": {"type": "rect", "color": "#3d8fe0"},
 "encoding": {"x2": {"field": "d2"}, "y2": {"field": "v2"}}},
{"data": {"values": [{"d":"2019-01-08T07:00:00Z","v":13.67,"t":"ordenes"}]},
 "mark": {"type": "text", "align": "left", "baseline": "middle", "dx": 0, "fontSize": 11.5, "color": "#111"},
 "encoding": {"text": {"field": "t"}}},
{"data": {"values": [{"d":"2021-12-09","d2":"2022-01-07T07:00:00Z","v":21.99,"v2":22.38}]},
 "mark": {"type": "rect", "color": "#3a8ee8"},
 "encoding": {"x2": {"field": "d2"}, "y2": {"field": "v2"}}},
{"data": {"values": [{"d":"2021-12-09","v":22.16,"t":"22,157"}]},
 "mark": {"type": "text", "align": "left", "baseline": "middle", "dx": 3, "fontSize": 14, "color": "white"},
 "encoding": {"text": {"field": "t"}}},
{"data": {"values": [{"d":"2021-12-09","d2":"2021-12-28T10:00:00Z","v":22.19,"v2":22.52}]},
 "mark": {"type": "rect", "color": "#3a8ee8"},
 "encoding": {"x2": {"field": "d2"}, "y2": {"field": "v2"}}},
{"data": {"values": [{"d":"2021-12-09","v":22.35,"t":"22,3"}]},
 "mark": {"type": "text", "align": "left", "baseline": "middle", "dx": 2, "fontSize": 14, "color": "white"},
 "encoding": {"text": {"field": "t"}}},
{"data": {"values": [{"d":"2019-01-08T07:00:00Z","v":25.347,"t":"C - ENDESA - 1 d  Dif. %:"},{"d":"2019-04-09T19:00:00Z","v":25.347,"t":"Dif.:"},{"d":"2019-05-15","v":25.347,"t":"M: 23,200  m: 22,300  F: 31-05-2021"}]},
 "mark": {"type": "text", "align": "left", "baseline": "middle", "fontSize": 11, "color": "#111"},
 "encoding": {"text": {"field": "t"}}},
{"data": {"values": [{"d":"2019-03-22T14:00:00Z","v":25.347,"t":"-5,71"},{"d":"2019-04-23T07:00:00Z","v":25.347,"t":"-1,350"},{"d":"2019-08-28","v":25.347,"t":"P : 24,600"}]},
 "mark": {"type": "text", "align": "left", "baseline": "middle", "fontSize": 11, "color": "#ee2222"},
 "encoding": {"text": {"field": "t"}}}
]
}
